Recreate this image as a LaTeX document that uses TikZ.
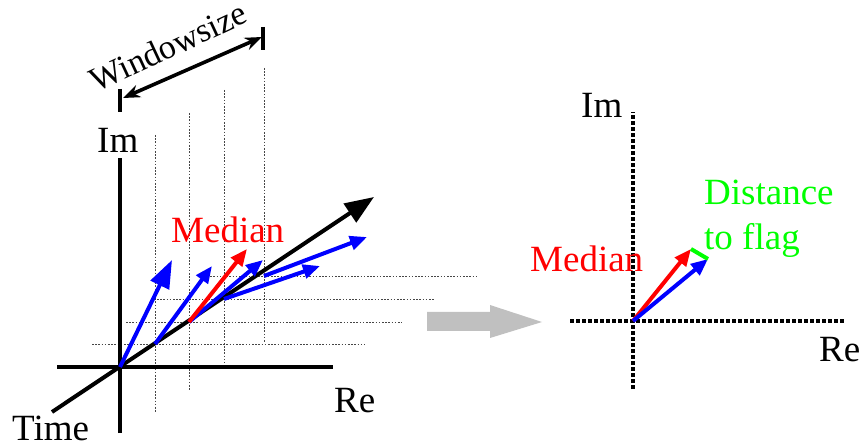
\documentclass[tikz,border=0pt]{standalone}
\usepackage{fontspec}
\setmainfont{Liberation Serif}
\usetikzlibrary{arrows.meta}
\definecolor{pureblue}{RGB}{0,0,255}
\definecolor{purered}{RGB}{255,0,0}
\definecolor{puregreen}{RGB}{0,255,0}
\definecolor{arrowgray}{RGB}{192,192,192}
\definecolor{dotgray}{RGB}{70,70,70}
\begin{document}
\begin{tikzpicture}[x=1pt,y=-1pt,
  lbl/.style={font=\fontsize{37}{44}\selectfont, inner sep=0pt, anchor=base west},
  axisline/.style={line width=4pt},
  guide/.style={draw=dotgray, line width=0.9pt, dash pattern=on 1.6pt off 1.6pt},
  vec/.style={line width=4pt, -{Triangle[length=17pt,width=14pt]}},
  bigvec/.style={line width=4pt, -{Triangle[length=28pt,width=20pt]}},
  flataxis/.style={line width=3.4pt, dash pattern=on 4pt off 2pt},
  wsarrow/.style={line width=3.6pt, {Stealth[length=17pt,width=13pt]}-{Stealth[length=17pt,width=13pt]}},
]
\useasboundingbox (0,0) rectangle (865,446);

% ---------- left: coordinates ----------
\coordinate (O) at (120,367);
\coordinate (p1) at (155,344);
\coordinate (p2) at (189,322);
\coordinate (p3) at (224,299);
\coordinate (p4) at (264,276);

% dotted guides
\draw[guide] (155,135) -- (155,412);
\draw[guide] (189,113) -- (189,390);
\draw[guide] (224,90) -- (224,363);
\draw[guide] (264,68) -- (264,342);
\draw[guide] (92,344) -- (365,344);
\draw[guide] (126,322) -- (402,322);
\draw[guide] (157,299) -- (435,299);
\draw[guide] (207,276) -- (477,276);

% axes
\coordinate (reL) at (57,367);
\coordinate (reR) at (333,367);
\coordinate (imT) at (120,158);
\coordinate (imB) at (120,433);
\coordinate (tS) at (52,412);
\coordinate (tE) at (374,197);
\draw[axisline] (reL) -- (reR);
\draw[axisline] (imB) -- (imT);
\draw[line width=4pt, -{Triangle[length=29pt,width=22pt]}] (tS) -- (tE);

% vectors
\coordinate (b0) at (172,260);
\coordinate (b1) at (212,266);
\coordinate (m2) at (247,249);
\coordinate (b2) at (263,260);
\coordinate (b3) at (320,266);
\coordinate (b4) at (367,237);
\draw[bigvec, pureblue] (O) -- (b0);
\draw[vec, pureblue] (p1) -- (b1);
\draw[vec, pureblue] (p2) -- (b2);
\draw[vec, pureblue] (p3) -- (b3);
\draw[vec, pureblue] (p4) -- (b4);
\draw[vec, purered] (p2) -- (m2);

% labels
\node[lbl] (imL) at (97,153) {Im};
\node[lbl] (reLbl) at (334,412) {Re};
\node[lbl] (time) at (12,440) {Time};
\node[lbl, text=purered] (medL) at (171,243) {Median};

% window size
\coordinate (w1) at (123,98);
\coordinate (w2) at (262,37);
\draw[wsarrow] (w1) -- (w2);
\draw[line width=3.8pt] (120,89) -- (120,112);
\draw[line width=3.8pt] (263,27) -- (263,50);
\node[font=\fontsize{34}{40}\selectfont, inner sep=0pt, anchor=base, rotate=25] (ws) at (173,57) {Windowsize};

% gray transition arrow
\fill[arrowgray] (427,312) -- (490,312) -- (490,305) -- (542,322) -- (490,338) -- (490,331) -- (427,331) -- cycle;

% ---------- right ----------
\coordinate (O2) at (633,321);
\coordinate (h2L) at (570,321);
\coordinate (h2R) at (845,321);
\coordinate (v2T) at (633,112);
\coordinate (v2B) at (633,389);
\draw[flataxis] (h2L) -- (h2R);
\draw[flataxis] (v2B) -- (v2T);
\coordinate (rm) at (691,249);
\coordinate (rb) at (708,259);
\draw[vec, purered] (O2) -- (rm);
\draw[vec, pureblue] (O2) -- (rb);
\draw[line width=4pt, puregreen] (rm) -- (rb);

\node[lbl] (imR) at (581,118) {Im};
\node[lbl] (reR2) at (819,362) {Re};
\node[lbl, text=purered] (medR) at (530,272) {Median};
\node[lbl, text=puregreen] (dist) at (704,205) {Distance};
\node[lbl, text=puregreen] (flag) at (704,250) {to flag};
\end{tikzpicture}
\end{document}
